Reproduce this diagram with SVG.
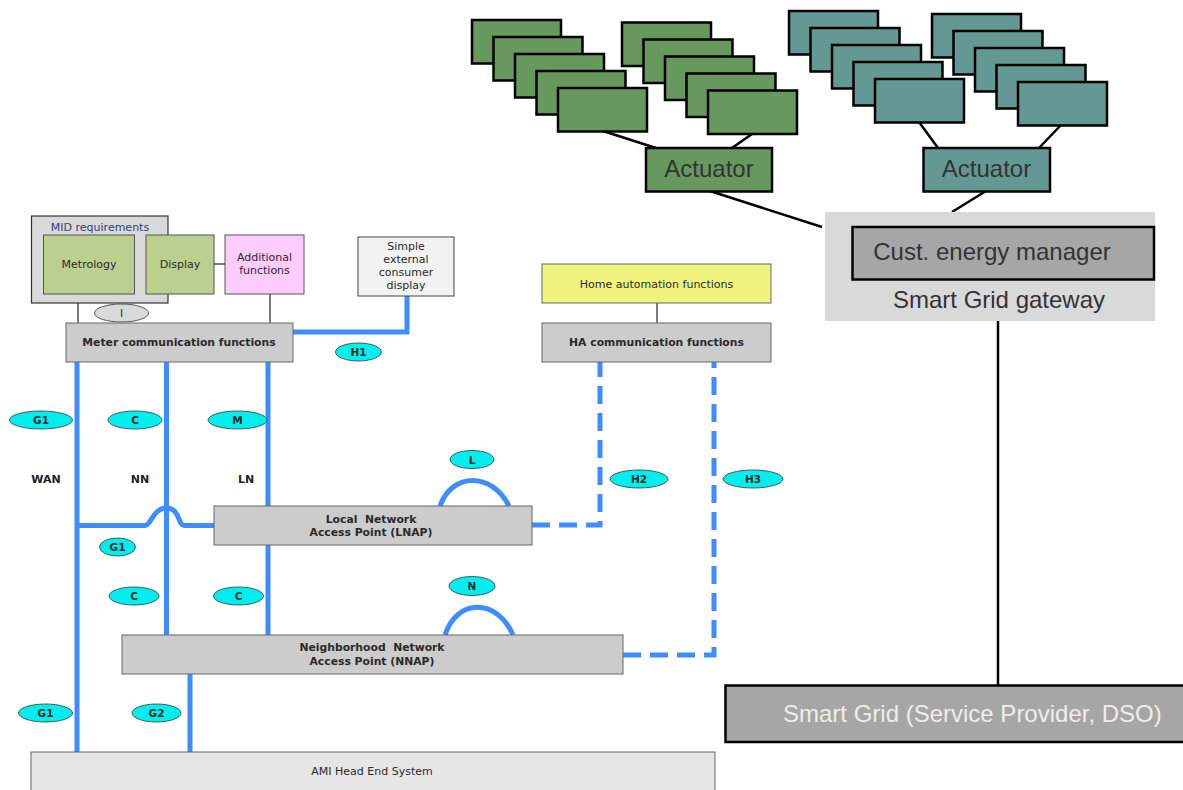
<svg xmlns="http://www.w3.org/2000/svg" width="1183" height="790" viewBox="0 0 1183 790">
  <style>
    .sm { font-family: "DejaVu Sans", Verdana, sans-serif; font-size: 11px; fill: #2a2a2a; }
    .smb { font-family: "DejaVu Sans", Verdana, sans-serif; font-size: 10.8px; font-weight: bold; fill: #2a2a2a; }
    .tag { font-family: "DejaVu Sans", Verdana, sans-serif; font-size: 10.5px; font-weight: bold; fill: #1e2a2a; }
    .net { font-family: "DejaVu Sans", Verdana, sans-serif; font-size: 11px; font-weight: bold; fill: #222222; }
    .big { font-family: "Liberation Sans", Arial, sans-serif; font-size: 24px; fill: #333333; }
    .gbox { fill: #cccccc; stroke: #666666; stroke-width: 1; }
    .oval { fill: #00eeee; stroke: #333333; stroke-width: 0.8; }
    .wire { fill: none; stroke: #3e8dff; stroke-width: 5; }
    .dash { fill: none; stroke: #3e8dff; stroke-width: 5; stroke-dasharray: 18 9; }
    .thin { fill: none; stroke: #222222; stroke-width: 1.2; }
    .blk { fill: none; stroke: #000000; stroke-width: 2.5; }
    .dev-g { fill: #67995f; stroke: #000000; stroke-width: 2.5; }
    .dev-t { fill: #649895; stroke: #000000; stroke-width: 2.5; }
  </style>

  <rect width="1183" height="790" fill="#ffffff"/>

  <!-- connectors -->
  <g id="connectors">
    <!-- device stacks to actuators -->
    <line class="blk" x1="603" y1="131" x2="656" y2="148"/>
    <line class="blk" x1="752" y1="134" x2="732" y2="148"/>
    <line class="blk" x1="919" y1="122" x2="938" y2="148"/>
    <line class="blk" x1="1061" y1="125" x2="1039" y2="148"/>
    <!-- actuators to gateway -->
    <line class="blk" x1="710" y1="191" x2="822" y2="227"/>
    <line class="blk" x1="986" y1="191" x2="952" y2="212"/>
    <!-- gateway to smart grid -->
    <line class="blk" x1="998" y1="321" x2="998" y2="685"/>

    <!-- meter internals -->
    <line class="thin" x1="134" y1="264" x2="146" y2="264"/>
    <line class="thin" x1="214" y1="264" x2="225" y2="264"/>
    <line class="thin" x1="78" y1="303" x2="78" y2="323" stroke="#555555"/>
    <line class="thin" x1="270" y1="294" x2="270" y2="323"/>
    <line class="thin" x1="657" y1="303" x2="657" y2="323"/>

    <!-- H1 -->
    <polyline class="wire" points="293,332 407,332 407,296"/>
    <!-- WAN / NN / LN -->
    <line class="wire" x1="77" y1="362" x2="77" y2="752"/>
    <line class="wire" x1="166.5" y1="362" x2="166.5" y2="635"/>
    <line class="wire" x1="268" y1="362" x2="268" y2="506"/>
    <line class="wire" x1="268" y1="545" x2="268" y2="635"/>
    <!-- G1 to LNAP with hop over NN -->
    <path class="wire" d="M77,525.5 H145 C151,525.5 153,508 166.5,508 C180,508 178,525.5 184,525.5 H214"/>
    <!-- G2 -->
    <line class="wire" x1="190" y1="674" x2="190" y2="752"/>
    <!-- L and N loops -->
    <path class="wire" d="M440,506 C452,472 492,472 509,506"/>
    <path class="wire" d="M445,635 C457,598 497,598 513,635"/>
    <!-- H2 / H3 -->
    <polyline class="dash" points="532,525 600,525 600,362"/>
    <polyline class="dash" points="623,655 714,655 714,361"/>
  </g>

  <!-- device stacks -->
  <g id="stack-green-1">
    <rect class="dev-g" x="472" y="20" width="89" height="43.5"/>
    <rect class="dev-g" x="493.5" y="37" width="89" height="43.5"/>
    <rect class="dev-g" x="515" y="54" width="89" height="43.5"/>
    <rect class="dev-g" x="536.5" y="71" width="89" height="43.5"/>
    <rect class="dev-g" x="558" y="88" width="89" height="43.5"/>
  </g>
  <g id="stack-green-2">
    <rect class="dev-g" x="622" y="22.5" width="89" height="43.5"/>
    <rect class="dev-g" x="643.5" y="39.5" width="89" height="43.5"/>
    <rect class="dev-g" x="665" y="56.5" width="89" height="43.5"/>
    <rect class="dev-g" x="686.5" y="73.5" width="89" height="43.5"/>
    <rect class="dev-g" x="708" y="90.5" width="89" height="43.5"/>
  </g>
  <g id="stack-teal-1">
    <rect class="dev-t" x="789" y="11" width="89" height="43.5"/>
    <rect class="dev-t" x="810.5" y="28" width="89" height="43.5"/>
    <rect class="dev-t" x="832" y="45" width="89" height="43.5"/>
    <rect class="dev-t" x="853.5" y="62" width="89" height="43.5"/>
    <rect class="dev-t" x="875" y="79" width="89" height="43.5"/>
  </g>
  <g id="stack-teal-2">
    <rect class="dev-t" x="932" y="14" width="89" height="43.5"/>
    <rect class="dev-t" x="953.5" y="31" width="89" height="43.5"/>
    <rect class="dev-t" x="975" y="48" width="89" height="43.5"/>
    <rect class="dev-t" x="996.5" y="65" width="89" height="43.5"/>
    <rect class="dev-t" x="1018" y="82" width="89" height="43.5"/>
  </g>

  <!-- actuators -->
  <g id="actuator-green">
    <rect class="dev-g" x="646" y="148" width="126" height="43.5"/>
    <text class="big" x="709" y="176.5" text-anchor="middle">Actuator</text>
  </g>
  <g id="actuator-teal">
    <rect class="dev-t" x="923.5" y="148" width="126.5" height="43.5"/>
    <text class="big" x="986.5" y="176.5" text-anchor="middle">Actuator</text>
  </g>

  <!-- gateway -->
  <g id="smart-grid-gateway">
    <rect x="825" y="212" width="330" height="109" fill="#d9d9d9"/>
    <text class="big" x="999" y="308" text-anchor="middle">Smart Grid gateway</text>
  </g>
  <g id="cust-energy-manager">
    <rect x="852.5" y="227" width="301.5" height="52.5" fill="#a6a6a6" stroke="#000000" stroke-width="2.5"/>
    <text class="big" x="992" y="259.5" text-anchor="middle">Cust. energy manager</text>
  </g>

  <!-- smart grid -->
  <g id="smart-grid">
    <rect x="725.5" y="685.5" width="470" height="56.5" fill="#a6a6a6" stroke="#000000" stroke-width="2.5"/>
    <text class="big" x="783" y="721.5" style="fill:#eeeee8">Smart Grid (Service Provider, DSO)</text>
  </g>

  <!-- meter -->
  <g id="mid-requirements">
    <rect x="31.5" y="216" width="136.5" height="87" fill="#d9d9d9" stroke="#333333" stroke-width="1.2"/>
    <text class="sm" x="100" y="227" text-anchor="middle" dominant-baseline="central" style="fill:#33407a">MID requirements</text>
  </g>
  <g id="metrology">
    <rect x="43.5" y="235" width="91" height="59" fill="#bccf8e" stroke="#555555" stroke-width="1"/>
    <text class="sm" x="89" y="264.5" text-anchor="middle" dominant-baseline="central">Metrology</text>
  </g>
  <g id="display">
    <rect x="146" y="235" width="68" height="59" fill="#bccf8e" stroke="#555555" stroke-width="1"/>
    <text class="sm" x="180" y="264.5" text-anchor="middle" dominant-baseline="central">Display</text>
  </g>
  <g id="additional-functions">
    <rect x="225" y="235" width="79" height="59" fill="#ffccff" stroke="#555555" stroke-width="1"/>
    <text class="sm" x="264.5" y="257.5" text-anchor="middle" dominant-baseline="central">Additional</text>
    <text class="sm" x="264.5" y="270.5" text-anchor="middle" dominant-baseline="central">functions</text>
  </g>
  <g id="external-display">
    <rect x="358" y="237" width="96" height="59" fill="#f2f2f2" stroke="#444444" stroke-width="1"/>
    <text class="sm" x="406" y="246" text-anchor="middle" dominant-baseline="central">Simple</text>
    <text class="sm" x="406" y="259" text-anchor="middle" dominant-baseline="central">external</text>
    <text class="sm" x="406" y="272" text-anchor="middle" dominant-baseline="central">consumer</text>
    <text class="sm" x="406" y="285.5" text-anchor="middle" dominant-baseline="central">display</text>
  </g>
  <g id="interface-i">
    <ellipse cx="121.5" cy="313" rx="27" ry="9" fill="#dadada" stroke="#555555" stroke-width="1"/>
    <text class="tag" x="121.5" y="313" text-anchor="middle" dominant-baseline="central" style="font-weight:normal">I</text>
  </g>
  <g id="meter-communication">
    <rect class="gbox" x="66" y="323" width="227" height="39"/>
    <text class="smb" x="179" y="342.5" text-anchor="middle" dominant-baseline="central">Meter communication functions</text>
  </g>

  <!-- home automation -->
  <g id="home-automation">
    <rect x="542" y="264" width="229" height="39" fill="#f0f47e" stroke="#666666" stroke-width="1"/>
    <text class="sm" x="656.5" y="284" text-anchor="middle" dominant-baseline="central">Home automation functions</text>
  </g>
  <g id="ha-communication">
    <rect class="gbox" x="542" y="323" width="229" height="39"/>
    <text class="smb" x="656.5" y="342.5" text-anchor="middle" dominant-baseline="central">HA communication functions</text>
  </g>

  <!-- access points -->
  <g id="lnap">
    <rect class="gbox" x="214" y="506" width="318" height="39"/>
    <text class="smb" x="371" y="519" text-anchor="middle" dominant-baseline="central" xml:space="preserve">Local  Network</text>
    <text class="smb" x="371" y="532.5" text-anchor="middle" dominant-baseline="central">Access Point (LNAP)</text>
  </g>
  <g id="nnap">
    <rect class="gbox" x="122" y="635" width="501" height="39"/>
    <text class="smb" x="372" y="647.5" text-anchor="middle" dominant-baseline="central" xml:space="preserve">Neighborhood  Network</text>
    <text class="smb" x="372" y="661" text-anchor="middle" dominant-baseline="central">Access Point (NNAP)</text>
  </g>
  <g id="ami-head-end">
    <rect x="31" y="752" width="684" height="45" fill="#e6e6e6" stroke="#666666" stroke-width="1"/>
    <text class="sm" x="372" y="771" text-anchor="middle" dominant-baseline="central">AMI Head End System</text>
  </g>

  <!-- network labels -->
  <g id="network-labels">
    <text class="net" x="46" y="479" text-anchor="middle" dominant-baseline="central">WAN</text>
    <text class="net" x="140" y="479" text-anchor="middle" dominant-baseline="central">NN</text>
    <text class="net" x="246" y="479" text-anchor="middle" dominant-baseline="central">LN</text>
  </g>

  <!-- interface tags -->
  <g id="tag-h1"><ellipse class="oval" cx="358.5" cy="352" rx="23" ry="9"/><text class="tag" x="358.5" y="352" text-anchor="middle" dominant-baseline="central">H1</text></g>
  <g id="tag-g1-top"><ellipse class="oval" cx="41" cy="420" rx="31.5" ry="9"/><text class="tag" x="41" y="420" text-anchor="middle" dominant-baseline="central">G1</text></g>
  <g id="tag-c-top"><ellipse class="oval" cx="135" cy="420" rx="27" ry="9"/><text class="tag" x="135" y="420" text-anchor="middle" dominant-baseline="central">C</text></g>
  <g id="tag-m"><ellipse class="oval" cx="237.5" cy="420" rx="29.5" ry="9"/><text class="tag" x="237.5" y="420" text-anchor="middle" dominant-baseline="central">M</text></g>
  <g id="tag-l"><ellipse class="oval" cx="472" cy="459.5" rx="22" ry="9"/><text class="tag" x="472" y="459.5" text-anchor="middle" dominant-baseline="central">L</text></g>
  <g id="tag-h2"><ellipse class="oval" cx="639" cy="479" rx="29" ry="9"/><text class="tag" x="639" y="479" text-anchor="middle" dominant-baseline="central">H2</text></g>
  <g id="tag-h3"><ellipse class="oval" cx="753" cy="479" rx="30" ry="9"/><text class="tag" x="753" y="479" text-anchor="middle" dominant-baseline="central">H3</text></g>
  <g id="tag-g1-mid"><ellipse class="oval" cx="117.5" cy="547" rx="18" ry="9"/><text class="tag" x="117.5" y="547" text-anchor="middle" dominant-baseline="central">G1</text></g>
  <g id="tag-n"><ellipse class="oval" cx="472" cy="586" rx="23" ry="9.5"/><text class="tag" x="472" y="586" text-anchor="middle" dominant-baseline="central">N</text></g>
  <g id="tag-c-left"><ellipse class="oval" cx="134" cy="596" rx="25" ry="9"/><text class="tag" x="134" y="596" text-anchor="middle" dominant-baseline="central">C</text></g>
  <g id="tag-c-right"><ellipse class="oval" cx="238.5" cy="596" rx="25" ry="9"/><text class="tag" x="238.5" y="596" text-anchor="middle" dominant-baseline="central">C</text></g>
  <g id="tag-g1-low"><ellipse class="oval" cx="45.5" cy="713" rx="27" ry="9"/><text class="tag" x="45.5" y="713" text-anchor="middle" dominant-baseline="central">G1</text></g>
  <g id="tag-g2"><ellipse class="oval" cx="156.5" cy="713" rx="24.5" ry="9"/><text class="tag" x="156.5" y="713" text-anchor="middle" dominant-baseline="central">G2</text></g>
</svg>
